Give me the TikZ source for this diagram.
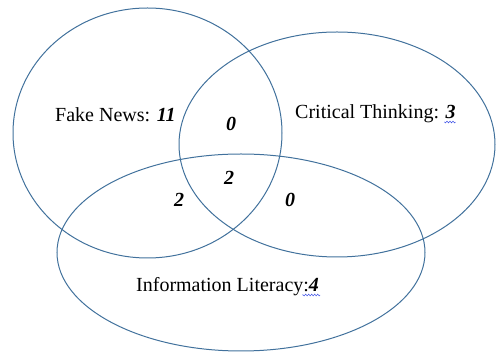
\documentclass[tikz,border=0pt]{standalone}
\usepackage{fontspec}
\setmainfont{Liberation Serif}
\usepackage{tikz}
\usetikzlibrary{decorations.pathmorphing}
\definecolor{vblue}  {RGB}{65,113,156}
\definecolor{sblue}  {RGB}{60,80,230}
\tikzset{
    setline/.style={draw=vblue, line width=1pt},
    setlabel/.style={font=\fontsize{20}{24}\selectfont, inner sep=0pt, anchor=base west},
    count/.style={font=\fontsize{20}{24}\selectfont\bfseries\itshape, inner sep=0pt},
    squiggle/.style={decorate, decoration={snake, amplitude=0.9pt, segment length=3pt}, draw=sblue, line width=0.5pt}
  }
\begin{document}
\begin{tikzpicture}[x=1pt,y=-1pt]
 \useasboundingbox (0,0) rectangle (496,352);
 %Fake News
     \draw[setline] (147.5,133) ellipse [x radius=134.5, y radius=125];
 %Critical Thinking
     \draw[setline] (337,144.5) ellipse [x radius=158, y radius=112.5];
 %Information Literacy
     \draw[setline] (241,252.5) ellipse [x radius=184, y radius=98.5];
 % labels
     \node[setlabel] (fake) at (55,122) {Fake News: \textbf{\textit{11}}};
     \node[setlabel] (crit) at (295,119) {Critical Thinking: \textbf{\textit{3}}};
     \node[setlabel] (info) at (136,292) {Information Literacy:\textbf{\textit{4}}};
 % counts
     \node[count] (fc) at (231,124) {0};
     \node[count] (all) at (229,178) {2};
     \node[count] (fi) at (179,200) {2};
     \node[count] (ci) at (290,200) {0};
 % spelling marks
     \draw[squiggle] ([xshift=-0.5pt,yshift=-3pt]crit.base east) -- ++(-11,0);
     \draw[squiggle] ([xshift=1pt,yshift=-3pt]info.base east) -- ++(-18,0);
 \end{tikzpicture}
\end{document}
